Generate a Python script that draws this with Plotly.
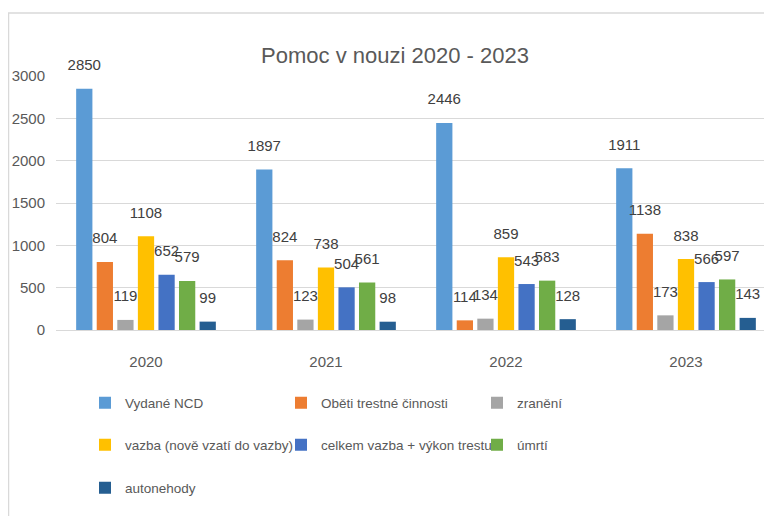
import plotly.graph_objects as go

years = ["2020", "2021", "2022", "2023"]
series_names = [
    "Vydané NCD",
    "Oběti trestné činnosti",
    "zranění",
    "vazba (nově vzatí do vazby)",
    "celkem vazba + výkon trestu",
    "úmrtí",
    "autonehody",
]
vydane_ncd = [2850, 1897, 2446, 1911]
obeti = [804, 824, 114, 1138]
zraneni = [119, 123, 134, 173]
vazba = [1108, 738, 859, 838]
celkem_vazba = [652, 504, 543, 566]
umrti = [579, 561, 583, 597]
autonehody = [99, 98, 128, 143]
y_ticks = [0, 500, 1000, 1500, 2000, 2500, 3000]

series_values = [vydane_ncd, obeti, zraneni, vazba, celkem_vazba, umrti, autonehody]
colors = ["#5B9BD5", "#ED7D31", "#A5A5A5", "#FFC000", "#4472C4", "#70AD47", "#255E91"]
legend_rows = ["legend", "legend", "legend", "legend2", "legend2", "legend2", "legend3"]

FONT = "Liberation Sans, Arial, sans-serif"
GRAY = "#595959"
OFF = 8  # page body margin

fig = go.Figure()
for name, vals, col, lg in zip(series_names, series_values, colors, legend_rows):
    fig.add_trace(go.Bar(
        name=name, x=years, y=vals, marker_color=col, marker_line_width=0,
        legend=lg,
    ))
for name, vals in zip(series_names, series_values):
    fig.add_trace(go.Scatter(
        x=years, y=vals, mode="markers+text", text=[str(v) for v in vals],
        textposition="top center", marker=dict(size=22, color="rgba(0,0,0,0)"),
        textfont=dict(size=15, color="#404040", family=FONT),
        showlegend=False, hoverinfo="skip", cliponaxis=False,
    ))

W, H = 772, 516
L = 56 - OFF
T = 76 - OFF
B = H - (330.5 - OFF)
plot_w = W - L
plot_h = H - T - B
cat_w = 180

legend_common = dict(
    orientation="h", xref="container", yref="container", xanchor="left", yanchor="middle",
    font=dict(size=13.5, color=GRAY, family=FONT), entrywidth=151, entrywidthmode="pixels",
    bgcolor="rgba(0,0,0,0)", itemclick=False,
)
leg_x = (105 - 20 - OFF) / W

fig.update_layout(
    width=W, height=H,
    margin=dict(l=L, r=0, t=T, b=B),
    paper_bgcolor="white", plot_bgcolor="white",
    barmode="group", bargap=0.2, bargroupgap=0.21,
    scattermode="group", scattergap=0.2,
    title=dict(text="Pomoc v nouzi 2020 - 2023", x=(395 - OFF) / W, xanchor="center", xref="container",
               y=1 - (55 - OFF) / H, yanchor="middle", yref="container",
               font=dict(size=22, color=GRAY, family=FONT)),
    font=dict(family=FONT, color=GRAY),
    xaxis=dict(range=[-0.5, -0.5 + plot_w / cat_w], showgrid=False, showline=True, linecolor="#D9D9D9",
               linewidth=1, tickfont=dict(size=15, color=GRAY), ticklabelstandoff=18,
               fixedrange=True),
    yaxis=dict(range=[0, 3000], tickvals=y_ticks, showgrid=True, gridcolor="#D9D9D9", gridwidth=1,
               zeroline=False, showline=False, tickfont=dict(size=15, color=GRAY),
               ticklabelstandoff=10, fixedrange=True),
    legend=dict(x=leg_x, y=1 - (403 - OFF) / H, **legend_common),
    legend2=dict(x=leg_x, y=1 - (445 - OFF) / H, **legend_common),
    legend3=dict(x=leg_x, y=1 - (488 - OFF) / H, **legend_common),
    showlegend=True,
)

# chart area border
fig.add_shape(type="rect", xref="paper", yref="paper",
              x0=(0.5 - L) / plot_w, x1=(W + 20 - L) / plot_w,
              y0=-(H + 20 - (H - B)) / plot_h, y1=((H - B) - (13 - OFF)) / plot_h,
              line=dict(color="#D9D9D9", width=1.5), fillcolor="rgba(0,0,0,0)", layer="below")

fig.write_html("out.html")
